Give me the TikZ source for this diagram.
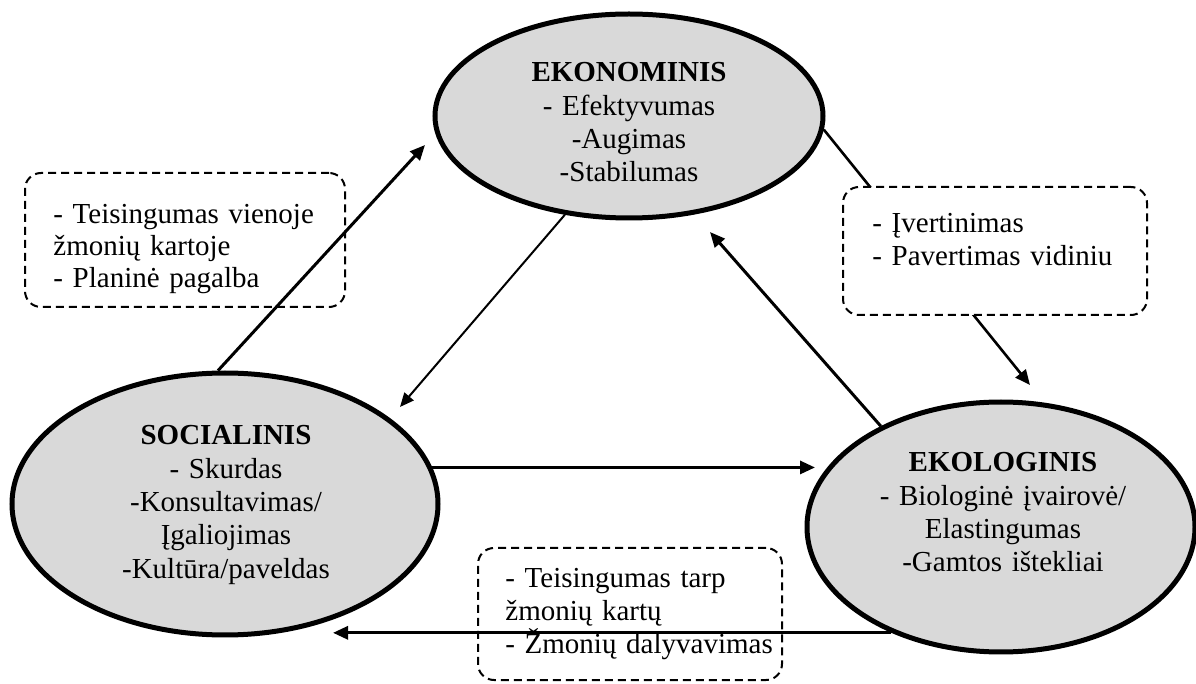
\documentclass[tikz,border=0pt]{standalone}
\usepackage{fontspec}
\setmainfont{Liberation Serif}
\usetikzlibrary{arrows.meta,shapes.geometric,calc}
\definecolor{ellgray}{HTML}{D9D9D9}
\begin{document}
\begin{tikzpicture}[x=0.5pt,y=-0.5pt,
  ell/.style={ellipse,draw,line width=2.5pt,fill=ellgray,inner sep=0pt},
  etxt/.style={inner sep=0pt,anchor=base,text width=220pt,align=center,
    font=\fontsize{14.5pt}{16.65pt}\selectfont},
  btxt/.style={inner sep=0pt,anchor=base west,text width=200pt,align=left,
    font=\fontsize{14.5pt}{16pt}\selectfont},
  dbox/.style={draw,line width=1pt,dash pattern=on 4pt off 2.5pt,rounded corners=8pt,inner sep=0pt},
  arr/.style={line width=1.5pt,-{Triangle[length=7.5pt,width=6.5pt]}},
  arrthin/.style={line width=1pt,-{Triangle[length=7pt,width=6pt]}}]
\useasboundingbox (0,0) rectangle (1196,684);
% ellipses
\node[ell,minimum width=194pt,minimum height=102pt] (eko) at (629,116) {};
\node[ell,minimum width=213pt,minimum height=131pt] (soc) at (225,504) {};
\node[ell,minimum width=194pt,minimum height=125pt] (ekol) at (1001,527) {};
% dashed boxes (unfilled)
\node[dbox,minimum width=160pt,minimum height=67pt] (b1) at (185,240) {};
\node[dbox,minimum width=152pt,minimum height=66pt] (b3) at (630,614) {};
% tips
\coordinate (a1) at (425,145);
\coordinate (a2) at (400,407);
\coordinate (a3) at (710,232);
\coordinate (a4) at (1030,385);
\coordinate (a5) at (815,468);
\coordinate (a6) at (333,633);
% texts of boxes 1 and 3
\node[btxt] (t1) at (53,224) {- Teisingumas vienoje\\žmonių kartoje\\- Planinė pagalba};
\node[btxt,font=\fontsize{14.5pt}{16.4pt}\selectfont] (t3) at (505,588) {- Teisingumas tarp\\žmonių kartų\\- Žmonių dalyvavimas};
% arrows
\draw[arr] (soc.93) -- (a1);
\draw[arrthin] (eko.237) -- (a2);
\draw[arr] (ekol.140) -- (a3);
\draw[line width=1.3pt,-{Triangle[length=7.5pt,width=6.5pt]}] (eko.356) -- (a4);
\draw[arr] (soc.10) -- (soc.10 -| a5);
\draw[arr] (ekol.224) -- (ekol.224 -| a6);
% box 2 (filled, over the line)
\node[dbox,fill=white,minimum width=152pt,minimum height=64pt] (b2) at (995,251) {};
\node[btxt,font=\fontsize{14.5pt}{16.5pt}\selectfont] (t2) at (872,233) {- Įvertinimas\\- Pavertimas vidiniu};
% ellipse texts
\node[etxt] (te) at (629,82) {\textbf{EKONOMINIS}\\- Efektyvumas\\-Augimas\\-Stabilumas};
\node[etxt] (ts) at (226,445) {\textbf{SOCIALINIS}\\- Skurdas\\-Konsultavimas/\\Įgaliojimas\\-Kultūra/paveldas};
\node[etxt] (tl) at (1003,472) {\textbf{EKOLOGINIS}\\- Biologinė įvairovė/\\Elastingumas\\-Gamtos ištekliai};
\end{tikzpicture}
\end{document}
